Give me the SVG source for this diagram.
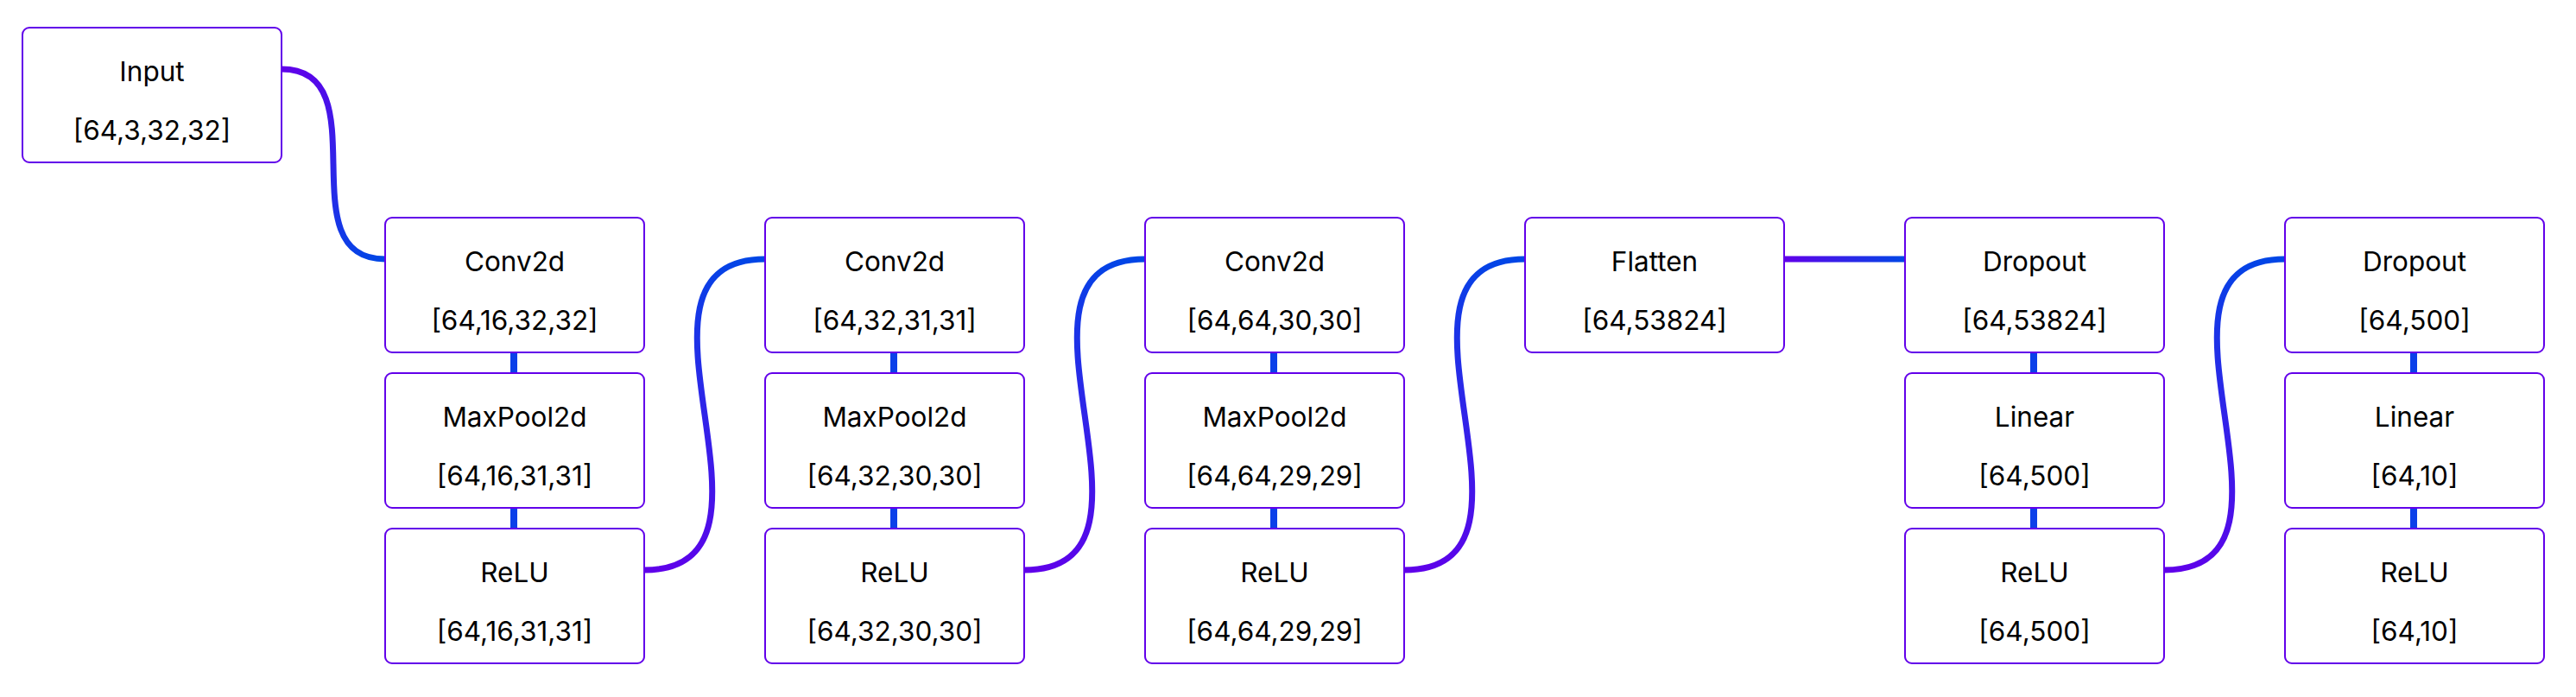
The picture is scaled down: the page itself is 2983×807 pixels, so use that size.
<svg xmlns="http://www.w3.org/2000/svg" width="2983" height="807" viewBox="0 0 2983 807">
<style>
.box{fill:#ffffff;stroke:#6200ea;stroke-width:2}
.t{font-family:Inter,'Noto Sans','Liberation Sans',sans-serif;font-size:31.5px;fill:#000000;text-anchor:middle}
.c{fill:none;stroke-width:7;stroke-linecap:butt}
.v{fill:none;stroke:#0b40e9;stroke-width:8}
</style>
<defs>
<linearGradient id="g1" gradientUnits="userSpaceOnUse" x1="327" y1="80" x2="445" y2="300"><stop offset="0" stop-color="#6000ea"/><stop offset="1" stop-color="#0047e6"/></linearGradient>
<linearGradient id="g2" gradientUnits="userSpaceOnUse" x1="747" y1="660" x2="885" y2="300"><stop offset="0" stop-color="#6000ea"/><stop offset="1" stop-color="#0047e6"/></linearGradient>
<linearGradient id="g3" gradientUnits="userSpaceOnUse" x1="1187" y1="660" x2="1325" y2="300"><stop offset="0" stop-color="#6000ea"/><stop offset="1" stop-color="#0047e6"/></linearGradient>
<linearGradient id="g4" gradientUnits="userSpaceOnUse" x1="1627" y1="660" x2="1765" y2="300"><stop offset="0" stop-color="#6000ea"/><stop offset="1" stop-color="#0047e6"/></linearGradient>
<linearGradient id="g5" gradientUnits="userSpaceOnUse" x1="2067" y1="300" x2="2205" y2="300"><stop offset="0" stop-color="#6000ea"/><stop offset="1" stop-color="#0047e6"/></linearGradient>
<linearGradient id="g6" gradientUnits="userSpaceOnUse" x1="2507" y1="660" x2="2645" y2="300"><stop offset="0" stop-color="#6000ea"/><stop offset="1" stop-color="#0047e6"/></linearGradient>
</defs>
<rect width="2983" height="807" fill="#ffffff"/>
<g id="connectors">
<path class="c" stroke="url(#g1)" d="M326,80 C442,80 330,300 446,300"/>
<path class="c" stroke="url(#g2)" d="M746,660 C937,660 695,300 886,300"/>
<path class="c" stroke="url(#g3)" d="M1186,660 C1377,660 1135,300 1326,300"/>
<path class="c" stroke="url(#g4)" d="M1626,660 C1817,660 1575,300 1766,300"/>
<path class="c" stroke="url(#g5)" stroke-width="8" d="M2066,300 L2206,300"/>
<path class="c" stroke="url(#g6)" d="M2506,660 C2697,660 2455,300 2646,300"/>
<path class="v" d="M595,405 V436 M595,585 V616"/>
<path class="v" d="M1035,405 V436 M1035,585 V616"/>
<path class="v" d="M1475,405 V436 M1475,585 V616"/>
<path class="v" d="M2355,405 V436 M2355,585 V616"/>
<path class="v" d="M2795,405 V436 M2795,585 V616"/>
</g>
<g id="input"><rect class="box" x="26" y="32" width="300" height="156" rx="8"/><text class="t" x="176" y="94">Input</text><text class="t" x="176" y="162">[64,3,32,32]</text></g>
<g id="conv2d-1"><rect class="box" x="446" y="252" width="300" height="156" rx="8"/><text class="t" x="596" y="314">Conv2d</text><text class="t" x="596" y="382">[64,16,32,32]</text></g>
<g id="maxpool2d-1"><rect class="box" x="446" y="432" width="300" height="156" rx="8"/><text class="t" x="596" y="494">MaxPool2d</text><text class="t" x="596" y="562">[64,16,31,31]</text></g>
<g id="relu-1"><rect class="box" x="446" y="612" width="300" height="156" rx="8"/><text class="t" x="596" y="674">ReLU</text><text class="t" x="596" y="742">[64,16,31,31]</text></g>
<g id="conv2d-2"><rect class="box" x="886" y="252" width="300" height="156" rx="8"/><text class="t" x="1036" y="314">Conv2d</text><text class="t" x="1036" y="382">[64,32,31,31]</text></g>
<g id="maxpool2d-2"><rect class="box" x="886" y="432" width="300" height="156" rx="8"/><text class="t" x="1036" y="494">MaxPool2d</text><text class="t" x="1036" y="562">[64,32,30,30]</text></g>
<g id="relu-2"><rect class="box" x="886" y="612" width="300" height="156" rx="8"/><text class="t" x="1036" y="674">ReLU</text><text class="t" x="1036" y="742">[64,32,30,30]</text></g>
<g id="conv2d-3"><rect class="box" x="1326" y="252" width="300" height="156" rx="8"/><text class="t" x="1476" y="314">Conv2d</text><text class="t" x="1476" y="382">[64,64,30,30]</text></g>
<g id="maxpool2d-3"><rect class="box" x="1326" y="432" width="300" height="156" rx="8"/><text class="t" x="1476" y="494">MaxPool2d</text><text class="t" x="1476" y="562">[64,64,29,29]</text></g>
<g id="relu-3"><rect class="box" x="1326" y="612" width="300" height="156" rx="8"/><text class="t" x="1476" y="674">ReLU</text><text class="t" x="1476" y="742">[64,64,29,29]</text></g>
<g id="flatten"><rect class="box" x="1766" y="252" width="300" height="156" rx="8"/><text class="t" x="1916" y="314">Flatten</text><text class="t" x="1916" y="382">[64,53824]</text></g>
<g id="dropout-1"><rect class="box" x="2206" y="252" width="300" height="156" rx="8"/><text class="t" x="2356" y="314">Dropout</text><text class="t" x="2356" y="382">[64,53824]</text></g>
<g id="linear-1"><rect class="box" x="2206" y="432" width="300" height="156" rx="8"/><text class="t" x="2356" y="494">Linear</text><text class="t" x="2356" y="562">[64,500]</text></g>
<g id="relu-4"><rect class="box" x="2206" y="612" width="300" height="156" rx="8"/><text class="t" x="2356" y="674">ReLU</text><text class="t" x="2356" y="742">[64,500]</text></g>
<g id="dropout-2"><rect class="box" x="2646" y="252" width="300" height="156" rx="8"/><text class="t" x="2796" y="314">Dropout</text><text class="t" x="2796" y="382">[64,500]</text></g>
<g id="linear-2"><rect class="box" x="2646" y="432" width="300" height="156" rx="8"/><text class="t" x="2796" y="494">Linear</text><text class="t" x="2796" y="562">[64,10]</text></g>
<g id="relu-5"><rect class="box" x="2646" y="612" width="300" height="156" rx="8"/><text class="t" x="2796" y="674">ReLU</text><text class="t" x="2796" y="742">[64,10]</text></g>
</svg>
